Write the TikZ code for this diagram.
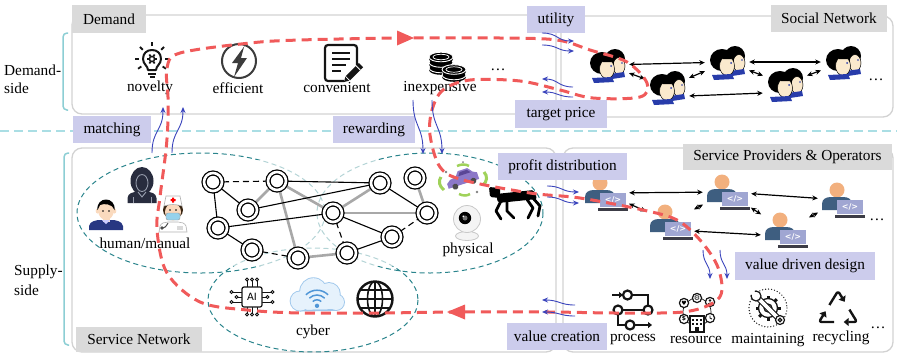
\documentclass[tikz,border=0pt]{standalone}
\usepackage{fontspec}
\setmainfont{Liberation Serif}
\newfontfamily\iconfont{DejaVu Sans}
\usetikzlibrary{arrows.meta}

\definecolor{panelgray}{RGB}{210,210,210}
\definecolor{taggray}{RGB}{218,218,218}
\definecolor{taglav}{RGB}{204,204,236}
\definecolor{bracketteal}{RGB}{140,206,212}
\definecolor{septeal}{RGB}{170,222,228}
\definecolor{ringteal}{RGB}{42,132,140}
\definecolor{loopred}{RGB}{240,90,90}
\definecolor{flowblue}{RGB}{58,68,188}
\definecolor{edgegray}{RGB}{168,168,168}
\definecolor{iconink}{RGB}{20,20,20}
\definecolor{boltgray}{RGB}{60,60,60}
\definecolor{skin}{RGB}{250,233,205}
\definecolor{manskin}{RGB}{250,218,190}
\definecolor{collarblue}{RGB}{40,60,170}
\definecolor{shirtblue}{RGB}{40,55,130}
\definecolor{womandark}{RGB}{40,44,62}
\definecolor{womanline}{RGB}{150,156,172}
\definecolor{maskblue}{RGB}{150,210,236}
\definecolor{headorange}{RGB}{242,176,126}
\definecolor{bodyslate}{RGB}{62,94,128}
\definecolor{screenlav}{RGB}{160,166,210}
\definecolor{basedark}{RGB}{60,60,70}
\definecolor{carpurple}{RGB}{140,120,200}
\definecolor{carwindow}{RGB}{90,70,150}
\definecolor{sensgreen}{RGB}{160,210,90}
\definecolor{camwhite}{RGB}{244,244,244}
\definecolor{camedge}{RGB}{200,200,200}
\definecolor{cloudfill}{RGB}{230,242,252}
\definecolor{cloudedge}{RGB}{160,200,236}
\definecolor{wifiblue}{RGB}{80,150,215}

\tikzset{
  panel/.style={draw=panelgray, line width=1.3pt, rounded corners=10pt},
  graytag/.style={fill=taggray, inner sep=0pt},
  lavtag/.style={fill=taglav, inner sep=0pt},
  plain/.style={inner sep=0pt},
  ringline/.style={draw=ringteal, line width=1pt, dash pattern=on 5pt off 3.5pt},
  gnode/.style={circle, draw=black, line width=1.3pt, double=white, double distance=2.6pt, fill=white, minimum size=18pt, inner sep=0pt},
  gedge/.style={line width=1.1pt},
  gdash/.style={line width=1.1pt, dash pattern=on 6pt off 4pt},
  gthick/.style={draw=edgegray, line width=2.6pt},
  looppath/.style={draw=loopred, line width=3pt, dash pattern=on 10pt off 6pt},
  flowarrow/.style={draw=flowblue, line width=0.9pt, -{Stealth[length=6pt,width=5pt]}},
  peerlink/.style={line width=1.2pt, {Stealth[length=5.5pt,width=5pt]}-{Stealth[length=5.5pt,width=5pt]}, shorten <=2pt, shorten >=2pt},
  hubbox/.style={inner sep=0pt, minimum width=40pt, minimum height=36pt},
  deskbox/.style={inner sep=0pt, minimum width=44pt, minimum height=38pt},
  % ---------- icons ----------
  pics/bulbicon/.style={code={
    \draw[iconink, line width=2pt, line join=round] (-4,8) .. controls (-4,4) and (-9,2) .. (-9,-3) .. controls (-9,-9) and (-5,-12) .. (0,-12) .. controls (5,-12) and (9,-9) .. (9,-3) .. controls (9,2) and (4,4) .. (4,8) -- cycle;
    \draw[iconink, line width=2pt] (-4,11.5) -- (4,11.5) (-2.5,15) -- (2.5,15);
    \draw[iconink, line width=1.5pt] (0,-3) circle (2.6);
    \foreach \a in {0,60,...,300} \draw[iconink, line width=1.8pt] (0,-3) ++(\a:3.2) -- ++(\a:2);
    \foreach \a in {-90,-135,-45,180,0,145,35} \draw[iconink, line width=1.8pt] (0,-3) ++(\a:13) -- ++(\a:4);
  }},
  pics/bolticon/.style={code={
    \draw[boltgray, line width=2pt] (0,0) circle (17);
    \fill[boltgray] (7,-17) -- (-7,2) -- (-1,2) -- (-5,16) -- (8,-3) -- (2,-3) -- (5,-14) -- cycle;
  }},
  pics/docicon/.style={code={
    \draw[iconink, line width=2.2pt, rounded corners=3pt] (3,18) -- (-16,18) -- (-16,-18) -- (16,-18) -- (16,2);
    \draw[iconink, line width=2pt] (-9,-10) -- (9,-10) (-9,-4) -- (9,-4) (-9,2) -- (5,2) (-9,8) -- (0,8);
    \begin{scope}[shift={(3,19)}, rotate=45]
      \fill[iconink] (0,0) -- (5,-3) -- (24,-3) -- (24,3) -- (5,3) -- cycle;
      \draw[white, line width=0.8pt] (5,-3) -- (5,3) (20,-3) -- (20,3);
    \end{scope}
  }},
  pics/coinstack/.style={code={
    \foreach \k in {1,...,#1} {
      \fill[black] (0,{-(\k-1)*5.5+2}) ellipse (12 and 4.8);
      \fill[black] (-12,{-(\k-1)*5.5}) rectangle (12,{-(\k-1)*5.5+2});
      \filldraw[fill=black, draw=white, line width=0.9pt] (0,{-(\k-1)*5.5}) ellipse (12 and 4.8);
    }
    \draw[white, line width=0.7pt] (0,{-(#1-1)*5.5}) ellipse (8 and 2.7);
  }},
  pics/headpair/.style={code={
    \fill[black] (8,-6) ellipse (10 and 10);
    \filldraw[fill=skin, draw=black, line width=0.5pt] (12,1) ellipse (6 and 8.5);
    \fill[collarblue] (3,9) -- (17,7) -- (18,12) -- (5,14) -- cycle;
    \fill[black] (-5,-2) ellipse (12 and 11);
    \filldraw[fill=skin, draw=black, line width=0.5pt] (0,4) ellipse (7.5 and 9.5);
    \fill[black] (-8,-7) .. controls (-3,-10) and (3,-8) .. (5,-3) -- (-4,-3) -- cycle;
    \fill[collarblue] (-15,13) -- (5,12) -- (7,17) -- (-13,18) -- cycle;
    \fill[collarblue] (4,1) circle (1) (15,-2) circle (0.9);
  }},
  pics/deskicon/.style={code={
    \fill[headorange] (-5,-10) circle (7.5);
    \fill[bodyslate] (-20,10) -- (-20,4) .. controls (-20,-1) and (-16,-3) .. (-11,-3) -- (1,-3) .. controls (6,-3) and (10,-1) .. (10,4) -- (10,10) -- cycle;
    \fill[screenlav] (-5,0) rectangle (21,14);
    \node[white, font=\iconfont\bfseries\fontsize{8}{8}\selectfont, inner sep=0pt] at (8,7) {</>};
    \fill[basedark] (-7,14.5) rectangle (23,17.5);
  }},
  pics/manicon/.style={code={
    \fill[shirtblue] (-17,18) -- (-17,14) .. controls (-16,9) and (-10,8) .. (-5,8) -- (5,8) .. controls (10,8) and (16,9) .. (17,14) -- (17,18) -- cycle;
    \fill[manskin] (-3.5,4) rectangle (3.5,10);
    \fill[white!80!blue] (-4,8) -- (0,12) -- (4,8) -- cycle;
    \fill[manskin] (-8.5,-1) ellipse (1.8 and 2.5) (8.5,-1) ellipse (1.8 and 2.5);
    \fill[manskin] (0,-2) ellipse (8 and 10);
    \fill[black] (-8.5,-2) .. controls (-10,-16) and (10,-16) .. (8.5,-2) .. controls (7,-8) and (-2,-9) .. (-6,-7) .. controls (-7,-5) and (-8,-4) .. (-8.5,-2) -- cycle;
    \fill[black] (-3,-1) circle (0.8) (3,-1) circle (0.8);
  }},
  pics/womanicon/.style={code={
    \fill[womandark] (0,-4) ellipse (11.5 and 14);
    \fill[womandark] (-14.5,18) -- (-14.5,13) .. controls (-14,8) and (-9,7) .. (-5,7) -- (5,7) .. controls (9,7) and (14,8) .. (14.5,13) -- (14.5,18) -- cycle;
    \draw[womanline, line width=0.9pt] (0,-2) ellipse (6 and 8.5);
    \draw[womanline, line width=0.9pt] (-4,7) -- (0,12) -- (4,7);
    \draw[womanline, line width=0.9pt] (-9,12) -- (-9,18) (9,12) -- (9,18);
  }},
  pics/nurseicon/.style={code={
    \filldraw[fill=white, draw=black!30, line width=0.6pt] (-14,18) -- (-13,12) .. controls (-12,9) and (-8,8) .. (-5,8) -- (5,8) .. controls (8,8) and (12,9) .. (13,12) -- (14,18) -- cycle;
    \fill[black!70!brown] (0,-4) ellipse (10 and 9);
    \fill[manskin] (0,-2) ellipse (8 and 8.5);
    \filldraw[fill=white, draw=black!30, line width=0.6pt] (-9,-8) -- (-7,-18) -- (7,-18) -- (9,-8) .. controls (3,-10) and (-3,-10) .. (-9,-8) -- cycle;
    \fill[red] (-1,-16.5) rectangle (1,-11.5) (-2.5,-15) rectangle (2.5,-13);
    \filldraw[fill=maskblue, draw=black!40, line width=0.4pt, rounded corners=2pt] (-7,-1) rectangle (7,6);
    \fill[black] (-3,-4) circle (0.8) (3,-4) circle (0.8);
    \draw[black!70, line width=1pt] (-5,9) .. controls (-7,13) and (-9,14) .. (-10,14);
    \fill[black!70] (-11,14) circle (1.8);
    \fill[black!15] (4,12) rectangle (10,16);
  }},
  pics/caricon/.style={code={
    \draw[sensgreen, line width=3pt] (-22,-4) .. controls (-25,0) and (-24,5) .. (-19,9);
    \draw[sensgreen, line width=3pt] (21,-9) .. controls (25,-5) and (24,1) .. (20,4);
    \draw[sensgreen, line width=2.5pt] (-6,-15) .. controls (-2,-17) and (3,-17) .. (6,-15);
    \draw[sensgreen, line width=2.5pt] (-4,13) .. controls (0,15) and (4,15) .. (7,13);
    \begin{scope}[rotate=18]
      \fill[carpurple] (-16,3) -- (-16,-2) -- (-12,-5) -- (-6,-6) -- (-2,-11) -- (8,-11) -- (12,-6) -- (16,-4) -- (16,3) -- cycle;
      \fill[carwindow] (-3,-6) -- (-0.5,-9.5) -- (7,-9.5) -- (10,-6) -- cycle;
      \fill[black!70] (-9,3) circle (3) (10,3) circle (3);
    \end{scope}
    \fill[black!50] (-17,-9) circle (1.3) (14,11) circle (1.3) (0,-19) circle (1);
  }},
  pics/dogicon/.style={code={
    \fill[black, rounded corners=2pt] (-20,-9) -- (18,-13) -- (21,-4) -- (-18,0) -- cycle;
    \fill[black, rounded corners=1.5pt] (-27,-16) -- (-16,-15) -- (-16,-5) -- (-26,-6) -- cycle;
    \begin{scope}[black, line width=2.8pt, line cap=round, line join=round]
      \draw (-15,-2) -- (-20,8) -- (-15,16);
      \draw (-9,-2) -- (-9,8) -- (-2,15);
      \draw (10,-5) -- (17,5) -- (12,15);
      \draw (16,-6) -- (24,3) -- (22,13);
    \end{scope}
  }},
  pics/camicon/.style={code={
    \filldraw[fill=camwhite, draw=camedge, line width=0.8pt] (0,17) ellipse (11.5 and 4.5);
    \fill[camwhite] (-4.5,10) rectangle (4.5,16);
    \filldraw[fill=camwhite, draw=camedge, line width=0.8pt] (0,0) circle (13.5);
    \fill[black] (-2,-1) circle (6.2);
    \fill[black!55] (-2,-1) circle (2.5);
    \fill[white] (-3.7,-2.7) circle (0.9);
  }},
  pics/chipicon/.style={code={
    \foreach \t in {-5,0,5} {
      \draw[iconink, line width=0.9pt] (\t,-10) -- (\t,-16) (\t,10) -- (\t,16);
      \filldraw[fill=white, draw=iconink, line width=0.9pt] (\t,-17.5) circle (1.5) (\t,17.5) circle (1.5);
    }
    \foreach \t/\l in {-5/19,0/14,5/19} {
      \draw[iconink, line width=0.9pt] (-10,\t) -- (-\l,\t) (10,\t) -- (\l,\t);
      \filldraw[fill=white, draw=iconink, line width=0.9pt] (-\l-1.5,\t) circle (1.5) (\l+1.5,\t) circle (1.5);
    }
    \filldraw[fill=white, draw=iconink, line width=1.2pt, rounded corners=2pt] (-10,-10) rectangle (10,10);
    \node[font=\iconfont\fontsize{10}{10}\selectfont, inner sep=0pt] at (0,0) {AI};
  }},
  pics/cloudicon/.style={code={
    \begin{scope}[scale=1.2]
      \draw[cloudedge, line width=1.8pt] (-14,5) circle (8) (-3,-3) circle (11) (10,-1) circle (9) (16,6) circle (6.5);
      \draw[cloudedge, line width=1.8pt] (-14,13) -- (16,12.5);
      \fill[cloudfill] (-14,5) circle (8) (-3,-3) circle (11) (10,-1) circle (9) (16,6) circle (6.5);
      \fill[cloudfill] (-14,3) rectangle (16,12);
      \fill[wifiblue] (0,9) circle (1.8);
      \foreach \r in {5,9,13} \draw[wifiblue, line width=1.5pt] (0,9) ++(-135:\r) arc (-135:-45:\r);
    \end{scope}
  }},
  pics/globeicon/.style={code={
    \begin{scope}
      \clip (0,0) circle (17.5);
      \draw[iconink, line width=1.6pt] (0,0) ellipse (7.5 and 17.5);
      \draw[iconink, line width=1.6pt] (0,-18) -- (0,18) (-18,0) -- (18,0) (-18,-9) -- (18,-9) (-18,9) -- (18,9);
    \end{scope}
    \draw[iconink, line width=2.4pt] (0,0) circle (17.5);
  }},
  pics/processicon/.style={code={
    \begin{scope}[iconink, line width=2.2pt]
      \draw[-{Triangle[length=4pt,width=6pt]}] (-20,-16) -- (-9,-16);
      \draw (-4.5,-16) circle (4.5);
      \draw (0,-16) -- (16,-16) -- (16,-5.5);
      \draw (16,-1) circle (4.5);
      \draw (-14,-1) circle (4.5);
      \draw (-9.5,-1) -- (11.5,-1);
      \draw (-14,3.5) -- (-14,14) -- (-6.5,14);
      \draw (-2,14) circle (4.5);
      \draw[-{Triangle[length=4pt,width=6pt]}] (2.5,14) -- (20,14);
    \end{scope}
  }},
  pics/resourceicon/.style={code={
    \draw[iconink, line width=0.7pt] (0,0) circle (14);
    \foreach \x/\y in {-13/-9,0/-14,13/-10,-13/7,13/6} \filldraw[fill=white, draw=iconink, line width=1.2pt] (\x,\y) circle (4.6);
    \node[font=\iconfont\fontsize{6}{6}\selectfont, inner sep=0pt] at (-13,-9) {♥};
    \node[font=\iconfont\fontsize{7}{7}\selectfont, inner sep=0pt] at (0,-14) {⚙};
    \node[font=\iconfont\bfseries\fontsize{6}{6}\selectfont, inner sep=0pt] at (-13,7) {\$};
    \fill[iconink] (13,-11.5) circle (1.4);
    \draw[iconink, line width=0.9pt] (10.5,-7) .. controls (11,-9.5) and (15,-9.5) .. (15.5,-7);
    \draw[iconink, line width=0.9pt] (13,3.5) -- (13,6) -- (15,7);
    \filldraw[fill=white, draw=iconink, line width=1.2pt] (-7,4) rectangle (7,20);
    \foreach \x in {-4,0,4} \foreach \y in {7,11} \fill[iconink] (\x-1,\y) rectangle (\x+1,\y+2);
    \fill[iconink] (-2,15) rectangle (2,20);
  }},
  pics/wrenchicon/.style={code={
    \draw[iconink, line width=1.4pt, dash pattern=on 0pt off 3pt, line cap=round] (0,0) circle (19);
    \draw[iconink, line width=1.3pt] (0,0) circle (9.5);
    \foreach \a in {0,45,...,315} \draw[iconink, line width=3pt] (\a:9.5) -- (\a:12.5);
    \draw[iconink, line width=1.2pt] (0,0) circle (4);
    \draw[iconink, line width=6pt, line cap=round] (-10,-10) -- (10,10);
    \draw[white, line width=3.6pt, line cap=round] (-10,-10) -- (10,10);
    \filldraw[fill=white, draw=iconink, line width=1.2pt] (-12,-12) circle (5);
    \fill[white] (-12,-12) -- (-19,-14) -- (-14,-19) -- cycle;
    \filldraw[fill=white, draw=iconink, line width=1.2pt] (12,12) circle (4.5);
    \draw[iconink, line width=1.2pt] (12,12) circle (1.8);
  }},
  pics/recycleicon/.style={code={
    \begin{scope}[iconink, line width=2.4pt, line join=round, rounded corners=2.5pt, -{Triangle[length=5pt,width=8pt]}]
      \draw (-8.6,-2) -- (0,-16) -- (6.7,-5.2);
      \draw (11.4,2.6) -- (19,15) -- (5.7,15);
      \draw (-3.8,15) -- (-19,15) -- (-12.4,4.2);
    \end{scope}
  }}
}

\begin{document}
\begin{tikzpicture}[x=1pt, y=-1pt, font=\fontsize{15.3}{17}\selectfont]
\useasboundingbox (0,0) rectangle (897,357);

% ---------------- panels ----------------
\draw[panel] (72,15) rectangle (561,114);
\draw[panel] (556,16) rectangle (893,117);
\draw[panel] (72,148) rectangle (556,352);
\draw[panel] (563,148) rectangle (893,352);

% side brackets and the divider between demand and supply
\draw[bracketteal, line width=1.5pt, rounded corners=4pt] (68,33) -- (63,33) -- (63,110) -- (68,110);
\draw[bracketteal, line width=1.5pt, rounded corners=4pt] (69,153) -- (64,153) -- (64,345) -- (69,345);
\draw[septeal, line width=2.5pt, dash pattern=on 9pt off 5pt] (0,131) -- (897,131);

\node[plain, anchor=west] (demandside) at (4,70) {Demand-};
\node[plain, anchor=west] (demandside2) at (4,88) {side};
\node[plain, anchor=west] (supplyside) at (14,272) {Supply-};
\node[plain, anchor=west] (supplyside2) at (14,290) {side};

% ---------------- service network clusters ----------------
\draw[ringline] (201,213) ellipse (124 and 60);
\draw[ringline] (430,213) ellipse (113 and 60);
\draw[ringline] (313,300) ellipse (105 and 52);
\fill[white, opacity=0.65] (203,160) rectangle (440,266);

% graph of service nodes
\coordinate (g1) at (213,182);
\coordinate (g2) at (277,181);
\coordinate (g3) at (248,210);
\coordinate (g4) at (218,228);
\coordinate (g5) at (252,250);
\coordinate (g6) at (298,258);
\coordinate (g7) at (333,213);
\coordinate (g8) at (380,183);
\coordinate (g9) at (415,178);
\coordinate (g10) at (427,213);
\coordinate (g11) at (392,237);
\coordinate (g12) at (347,253);
\draw[gthick] (g2) -- (g3);
\draw[gthick] (g2) -- (g6);
\draw[gthick] (g2) -- (g7);
\draw[gthick] (g7) -- (g8);
\draw[gthick] (g7) -- (g10);
\draw[gthick] (g12) -- (g6);
\draw[gthick] (g9) -- (g10);
\draw[gedge] (g1) -- (g4);
\draw[gedge] (g1) -- (g3);
\draw[gedge] (g2) -- (g8);
\draw[gedge] (g3) -- (g8);
\draw[gedge] (g4) -- (g7);
\draw[gedge] (g4) -- (g5);
\draw[gedge] (g7) -- (g11);
\draw[gedge] (g12) -- (g11);
\draw[gedge] (g8) -- (g10);
\draw[gdash] (g1) -- (g2);
\draw[gdash] (g5) -- (g6);
\draw[gdash] (g7) -- (g12);
\draw[gdash] (g11) -- (g10);
\foreach \i in {1,...,12} \node[gnode] (n\i) at (g\i) {};

% human / physical / cyber resources
\pic at (106,212) {manicon};
\pic at (142,185) {womanicon};
\pic at (173,214) {nurseicon};
\node[plain] (human) at (145,243) {human/manual};
\pic at (463,181) {caricon};
\pic at (516,203) {dogicon};
\pic at (467,219) {camicon};
\node[plain] (physical) at (468,250) {physical};
\pic at (252,297) {chipicon};
\pic at (317,295) {cloudicon};
\pic at (375,299) {globeicon};
\node[plain] (cyber) at (313,332) {cyber};

% ---------------- demand attributes ----------------
\pic at (152,62) {bulbicon};
\pic at (239,61) {bolticon};
\pic at (341,63) {docicon};
\pic at (441,68) {coinstack=3};
\pic at (454,75) {coinstack=2};
\node[plain] (novelty) at (150,88) {novelty};
\node[plain] (efficient) at (238,88) {efficient};
\node[plain] (convenient) at (337,88) {convenient};
\node[plain] (inexpensive) at (440,88) {inexpensive};
\node[plain, anchor=base] (moredemand) at (498,70) {\ldots};

% ---------------- social network ----------------
\node[hubbox] (h1) at (607,65) {};
\node[hubbox] (h2) at (667,87) {};
\node[hubbox] (h3) at (727,62) {};
\node[hubbox] (h4) at (785,84) {};
\node[hubbox] (h5) at (843,62) {};
\foreach \i in {1,...,5} \pic at (h\i) {headpair};
\node[plain, anchor=base] (moresocial) at (876,80) {\ldots};
\draw[peerlink] (h1) -- (h3);
\draw[peerlink] (h1) -- (h2);
\draw[peerlink] (h2) -- (h3);
\draw[peerlink] ([yshift=-9pt]h2.east) -- ([yshift=-9pt]h4.west);
\draw[peerlink] (h3) -- (h4);
\draw[peerlink] (h3) -- (h5);
\draw[peerlink] (h4) -- (h5);

% ---------------- providers and operators ----------------
\node[deskbox] (p1) at (605,193) {};
\node[deskbox] (p2) at (670,222) {};
\node[deskbox] (p3) at (727,192) {};
\node[deskbox] (p4) at (785,230) {};
\node[deskbox] (p5) at (842,200) {};
\foreach \i in {1,...,5} \pic at (p\i) {deskicon};
\node[plain, anchor=base] (moredesk) at (877,220) {\ldots};
\draw[peerlink] (p1) -- (p3);
\draw[peerlink] (p1) -- (p2);
\draw[peerlink] (p2) -- (p3);
\draw[peerlink] ([yshift=-9pt]p2.east) -- ([yshift=-5pt]p4.west);
\draw[peerlink] (p3) -- (p4);
\draw[peerlink] (p3) -- (p5);
\draw[peerlink] (p4) -- (p5);

% life-cycle activities
\pic at (632,311) {processicon};
\pic at (697,312) {resourceicon};
\pic at (768,308) {wrenchicon};
\pic at (838,307) {recycleicon};
\node[plain] (process) at (633,340) {process};
\node[plain] (resource) at (696,340) {resource};
\node[plain] (maintaining) at (768,340) {maintaining};
\node[plain] (recycling) at (841,338) {recycling};
\node[plain, anchor=base] (moreact) at (878,328) {\ldots};

% ---------------- panel titles ----------------
\node[graytag, minimum width=74pt, minimum height=28pt] (tDemand) at (109,19) {Demand};
\node[graytag, minimum width=116pt, minimum height=27pt] (tSocial) at (829,18.5) {Social Network};
\node[graytag, minimum width=126pt, minimum height=25pt] (tService) at (139,339.5) {Service Network};
\node[graytag, minimum width=209pt, minimum height=26pt] (tProviders) at (787.5,157) {Service Providers \& Operators};

% ---------------- value loop ----------------
\draw[looppath] plot[smooth cycle, tension=0.55] coordinates {
  (168,97) (167,68) (180,53) (250,43) (300,40) (400,38) (500,38) (557,40) (590,50)
  (627,62) (647,83) (640,97) (593,98) (560,90) (520,81) (470,80) (443,90) (432,110)
  (430,135) (440,167) (463,180) (530,193) (580,198) (643,210) (677,220) (700,240)
  (717,265) (722,290) (713,303) (683,312) (617,313) (550,312) (457,312) (380,313)
  (300,313) (247,310) (200,302) (167,273) (157,230) (160,197) (166,150) (168,120)};
\fill[loopred] (414,38) -- (397,30.5) -- (397,45.5) -- cycle;
\fill[loopred] (447,312) -- (465,304.5) -- (465,319.5) -- cycle;

% ---------------- flow labels ----------------
\node[lavtag, minimum width=58pt, minimum height=27pt] (tUtility) at (556,19.5) {utility};
\node[lavtag, minimum width=92pt, minimum height=28pt] (tTarget) at (561,114) {target price};
\node[lavtag, minimum width=78pt, minimum height=27pt] (tMatching) at (112,129.5) {matching};
\node[lavtag, minimum width=82pt, minimum height=27pt] (tRewarding) at (374,129.5) {rewarding};
\node[lavtag, minimum width=129pt, minimum height=27pt] (tProfit) at (562.5,166.5) {profit distribution};
\node[lavtag, minimum width=140pt, minimum height=28pt] (tDesign) at (805,266) {value driven design};
\node[lavtag, minimum width=100pt, minimum height=27pt] (tCreation) at (557,336.5) {value creation};

% ---------------- flow arrows ----------------
\draw[flowarrow] (542,33) .. controls (558,33) and (557,41) .. (574,41);
\draw[flowarrow] (542,45) .. controls (558,45) and (557,51) .. (574,51);
\draw[flowarrow] (573,87) .. controls (558,87) and (558,79) .. (542,79);
\draw[flowarrow] (573,97) .. controls (558,97) and (558,92) .. (542,92);
\draw[flowarrow] (152,153) .. controls (152,130) and (163,131) .. (163,107);
\draw[flowarrow] (172,153) .. controls (172,130) and (183,131) .. (183,107);
\draw[flowarrow] (413,100) .. controls (413,127) and (423,126) .. (423,154);
\draw[flowarrow] (432,100) .. controls (432,127) and (442,126) .. (442,154);
\draw[flowarrow] (547,186) .. controls (562,186) and (562,192) .. (579,192);
\draw[flowarrow] (547,197) .. controls (562,197) and (562,203) .. (579,203);
\draw[flowarrow] (703,250) .. controls (703,264) and (710,264) .. (710,279);
\draw[flowarrow] (720,250) .. controls (720,264) and (727,264) .. (727,279);
\draw[flowarrow] (575,305) .. controls (560,305) and (559,300) .. (542,300);
\draw[flowarrow] (575,316) .. controls (560,316) and (559,312) .. (542,312);
\end{tikzpicture}
\end{document}
